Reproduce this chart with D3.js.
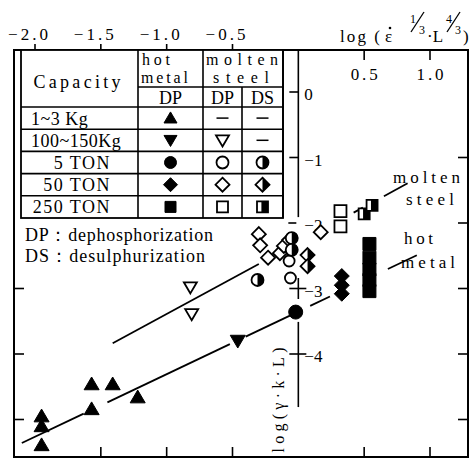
<!DOCTYPE html>
<html>
<head>
<meta charset="utf-8">
<script src="https://cdn.jsdelivr.net/npm/d3@7"></script>
<style>
  body { margin: 0; background: #fff; }
  svg { display: block; }
  text { font-family: "Liberation Serif", "DejaVu Serif", serif; fill: #000; }
</style>
</head>
<body>
<svg id="chart" width="470" height="465"></svg>
<script>
// ── Data (x = log(eps^1/3 L^4/3), y = log(gamma k L)) ─────────────────────────
const hotTriUp    = [[-1.95,-4.95],[-1.95,-5.10],[-1.95,-5.39],[-1.57,-4.46],[-1.41,-4.46],[-1.57,-4.84],[-1.22,-4.66]];
const hotTriDown  = [[-0.46,-3.80]];
const hotCircle   = [[-0.02,-3.36]];
const hotDiamond  = [[0.33,-2.81],[0.33,-2.95],[0.33,-3.08]];
const hotSquare   = [[0.54,-2.32],[0.54,-2.53],[0.54,-2.71],[0.54,-2.87],[0.54,-3.04]];

const steelTriDown = [[-0.82,-2.98],[-0.81,-3.39]];
const steelCircle  = [[-0.07,-2.58],[-0.06,-2.84]];
const steelDiamond = [[-0.30,-2.17],[-0.29,-2.34],[-0.23,-2.53],[-0.14,-2.46],[-0.11,-2.35],[-0.07,-2.26],[0.17,-2.14]];
const steelSquare  = [[0.32,-1.82],[0.32,-2.05]];

const dsCircle  = [[-0.31,-2.87],[-0.05,-2.23],[-0.05,-2.41]];
const dsDiamond = [[0.07,-2.49],[0.07,-2.66]];
const dsSquare  = [[0.50,-1.86],[0.56,-1.73]];

// fitted lines y = a + b x, drawn as broken segments over these x ranges
const hotFit   = [-3.352, 0.956];
const hotSegs  = [[-2.10,-1.63],[-1.45,-0.52],[-0.40,-0.06],[0.09,0.24],[0.68,0.90]];
const steelFit  = [-2.299, 1.09];
const steelSegs = [[-1.41,-0.30],[0.42,0.49],[0.65,0.83]];

// legend table
const capacities = ['1~3 Kg', '100~150Kg', '5 TON', '50 TON', '250 TON'];
const hotDP   = ['triUp', 'triDown', 'circle', 'diamond', 'square'];
const steelDP = [null, 'triDown', 'circle', 'diamond', 'square'];
const steelDS = [null, null, 'circle', 'diamond', 'square'];

// axes
const topNegTicks = [-2.0, -1.5, -1.0, -0.5];
const topPosTicks = [0.5, 1.0];
const bottomTicks = [-1.5, -1.0, -0.5, 0.5, 1.0];
const leftTicks   = [-3, -4, -5];
const rightTicks  = [-1, -2, -3, -4, -5];
const midTicks    = [0, -1, -2, -3, -4];
const midSegs     = [[0.64,-1.91],[-2.84,-3.16],[-3.51,-4.81]];

// ── Setup ─────────────────────────────────────────────────────────────────────
const svg = d3.select('#chart');
const x = d3.scaleLinear().domain([-2, 1]).range([35, 430]);
const y = d3.scaleLinear().domain([0, -5]).range([92, 419.5]);
const F = {l: 14, r: 468, t: 50, b: 457};
const minus = v => (v < 0 ? '\u2212' : '') + Math.abs(v);

const line = (x1, y1, x2, y2, w = 1.6) =>
  svg.append('line').attr('x1', x1).attr('y1', y1).attr('x2', x2).attr('y2', y2)
    .attr('stroke', '#000').attr('stroke-width', w);

const text = (t, tx, ty, size = 17, anchor = 'start') =>
  svg.append('text').attr('x', tx).attr('y', ty).attr('font-size', size)
    .attr('text-anchor', anchor).text(t);

// frame
svg.append('rect').attr('x', F.l).attr('y', F.t).attr('width', F.r - F.l).attr('height', F.b - F.t)
  .attr('fill', 'none').attr('stroke', '#000').attr('stroke-width', 2);

// ── Ticks ─────────────────────────────────────────────────────────────────────
topNegTicks.forEach(v => {
  line(x(v), F.t - 6, x(v), F.t);
  text(v.toFixed(1).replace('-', '\u2212'), x(v) - 7, 40, 17, 'middle').attr('textLength', 40);
});
topPosTicks.forEach(v => {
  line(x(v), F.t, x(v), F.t + 10);
  text(v.toFixed(1), x(v), 80, 17, 'middle').attr('textLength', 27);
});
bottomTicks.forEach(v => line(x(v), F.b, x(v), F.b - 10));
leftTicks.forEach(v => line(F.l, y(v), F.l + 10, y(v)));
rightTicks.forEach(v => line(F.r - 10, y(v), F.r, y(v)));

// central y axis at x = 0
const x0 = x(0);
midSegs.forEach(([a, b]) => line(x0, y(a), x0, y(b)));
midTicks.forEach(v => {
  const cross = v <= -3;
  if (v === -2) line(x0 - 10, y(v), x0 - 2, y(v));
  else line(x0 - 9, y(v), cross ? x0 + 8 : x0, y(v));
  text(minus(v), x0 + 6, y(v) + 8, 17);
});

// axis titles
text('log (', 340, 42, 17).attr('textLength', 40);
text('\u03b5', 385, 42, 17);
svg.append('circle').attr('cx', 390).attr('cy', 28).attr('r', 1.3).attr('fill', '#000');
text('1', 413, 23, 12, 'middle');
line(411, 32, 424, 12, 1.3);
text('3', 422, 34, 12, 'middle');
text('\u00b7L', 427, 42, 17);
text('4', 449, 23, 12, 'middle');
line(447, 32, 460, 12, 1.3);
text('3', 458, 34, 12, 'middle');
text(')', 463, 42, 17);

svg.append('text').attr('transform', `translate(284,400) rotate(-90)`)
  .attr('font-size', 16).attr('text-anchor', 'middle').attr('textLength', 105)
  .text('log(\u03b3\u00b7k\u00b7L)');

// ── Fitted lines ──────────────────────────────────────────────────────────────
const fitSegs = (fit, segs) => segs.forEach(([a, b]) =>
  line(x(a), y(fit[0] + fit[1] * a), x(b), y(fit[0] + fit[1] * b), 1.8));
fitSegs(hotFit, hotSegs);
fitSegs(steelFit, steelSegs);

text('molten', 393, 183, 17).attr('textLength', 67);
text('steel', 406, 205, 17).attr('textLength', 48);
text('hot', 404, 244, 17).attr('textLength', 29);
text('metal', 401, 268, 17).attr('textLength', 54);

// ── Markers ───────────────────────────────────────────────────────────────────
function shapePath(shape, r) {
  const p = d3.path();
  if (shape === 'circle') { p.moveTo(r, 0); p.arc(0, 0, r, 0, 2 * Math.PI); }
  else if (shape === 'square') p.rect(-r, -r, 2 * r, 2 * r);
  else if (shape === 'diamond') { p.moveTo(0, -r); p.lineTo(r, 0); p.lineTo(0, r); p.lineTo(-r, 0); p.closePath(); }
  else if (shape === 'triUp') { p.moveTo(0, -r * 0.95); p.lineTo(r, r * 0.75); p.lineTo(-r, r * 0.75); p.closePath(); }
  else if (shape === 'triDown') { p.moveTo(0, r * 0.95); p.lineTo(r, -r * 0.75); p.lineTo(-r, -r * 0.75); p.closePath(); }
  return p.toString();
}
function halfPath(shape, r) {
  const p = d3.path();
  if (shape === 'circle') { p.moveTo(0, -r); p.arc(0, 0, r, -Math.PI / 2, Math.PI / 2); p.closePath(); }
  else if (shape === 'square') p.rect(-r * 0.2, -r, r * 1.2, 2 * r);
  else { p.moveTo(0, -r); p.lineTo(r, 0); p.lineTo(0, r); p.closePath(); }
  return p.toString();
}
function marker(g, shape, style, r) {
  g.append('path').attr('d', shapePath(shape, r))
    .attr('fill', style === 'filled' ? '#000' : '#fff')
    .attr('stroke', '#000').attr('stroke-width', style === 'filled' ? 1 : 1.8);
  if (style === 'half') g.append('path').attr('d', halfPath(shape, r)).attr('fill', '#000');
}
function plotSet(pts, shape, style, r) {
  svg.append('g').selectAll('g').data(pts).join('g')
    .attr('transform', d => `translate(${x(d[0])},${y(d[1])})`)
    .each(function () { marker(d3.select(this), shape, style, r); });
}

plotSet(hotTriUp, 'triUp', 'filled', 7.5);
plotSet(hotTriDown, 'triDown', 'filled', 7.5);
plotSet(hotCircle, 'circle', 'filled', 7);
plotSet(hotDiamond, 'diamond', 'filled', 7.5);
plotSet(hotSquare, 'square', 'filled', 6.5);
plotSet(steelTriDown, 'triDown', 'open', 6.5);
plotSet(steelCircle, 'circle', 'open', 5.5);
plotSet(steelDiamond, 'diamond', 'open', 7);
plotSet(steelSquare, 'square', 'open', 6);
plotSet(dsCircle, 'circle', 'half', 6);
plotSet(dsDiamond, 'diamond', 'half', 7);
plotSet(dsSquare, 'square', 'half', 5.5);

// ── Legend table ──────────────────────────────────────────────────────────────
const T = {l: 21, r: 283, t: 50, b: 218, hdr: 87, sub: 107};
const cols = [T.l, 138, 203, 242, T.r];
const row = d3.scaleBand().domain(capacities).range([T.sub, T.b]);

svg.append('rect').attr('x', T.l).attr('y', T.t).attr('width', T.r - T.l).attr('height', T.b - T.t)
  .attr('fill', '#fff').attr('stroke', '#000').attr('stroke-width', 1.8);
line(cols[1], T.t, cols[1], T.b);
line(cols[2], T.t, cols[2], T.b);
line(cols[3], T.hdr, cols[3], T.b);
line(cols[1], T.hdr, T.r, T.hdr);
capacities.forEach(c => line(T.l, row(c), T.r, row(c)));
line(T.r, T.t, T.r, T.b, 1.8);

text('Capacity', 77, 88, 18, 'middle').attr('textLength', 87);
text('hot', 142, 65, 16).attr('textLength', 28);
text('metal', 141, 83, 16).attr('textLength', 47);
text('molten', 206, 65, 16).attr('textLength', 72);
text('steel', 213, 83, 16).attr('textLength', 56);
text('DP', (cols[1] + cols[2]) / 2, 104, 18, 'middle');
text('DP', (cols[2] + cols[3]) / 2, 104, 18, 'middle');
text('DS', (cols[3] + cols[4]) / 2, 104, 18, 'middle');

const colCenter = [(cols[1] + cols[2]) / 2, (cols[2] + cols[3]) / 2, (cols[3] + cols[4]) / 2];
const legR = {triUp: 6.5, triDown: 6.5, circle: 6, diamond: 7, square: 5.5};
capacities.forEach((c, i) => {
  const cy = row(c) + row.bandwidth() / 2;
  const isKg = c.includes('Kg');
  text(c, isKg ? 31 : 111, cy + 6.5, 18, isKg ? 'start' : 'end').attr('letter-spacing', isKg ? 0.5 : 1.5);
  [[hotDP[i], 'filled'], [steelDP[i], 'open'], [steelDS[i], 'half']].forEach(([shape, style], j) => {
    if (shape) {
      const g = svg.append('g').attr('transform', `translate(${colCenter[j]},${cy})`);
      marker(g, shape, style, legR[shape]);
    } else {
      line(colCenter[j] - 6, cy, colCenter[j] + 6, cy, 1.5);
    }
  });
});

text('DP\uff1adephosphorization', 25, 241, 18).attr('textLength', 188);
text('DS\uff1adesulphurization', 25, 262, 18).attr('textLength', 180);
</script>
</body>
</html>
